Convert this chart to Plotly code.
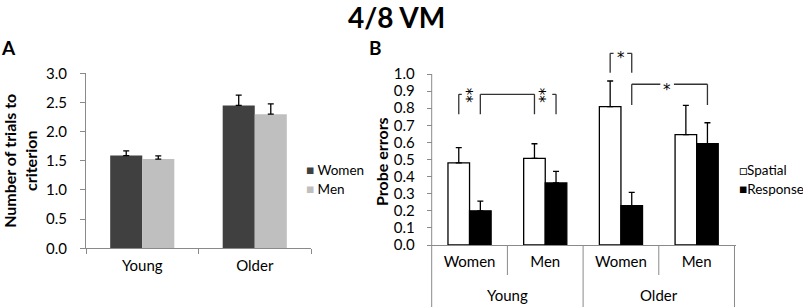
import plotly.graph_objects as go

W, H = 803, 307

# ---------------- data ----------------
# Panel A: number of trials to criterion
age_groups = ["Young", "Older"]
women_trials = [1.59, 2.45]
women_trials_sem = [0.08, 0.175]
men_trials = [1.53, 2.30]
men_trials_sem = [0.055, 0.175]

# Panel B: probe errors
group_labels = ["Young", "Older"]
sex_labels = ["Women", "Men", "Women", "Men"]
bar_pos = [0, 1, 2, 3]
spatial_errors = [0.48, 0.507, 0.809, 0.645]
spatial_sem = [0.089, 0.085, 0.15, 0.172]
response_errors = [0.20, 0.363, 0.23, 0.592]
response_sem = [0.056, 0.068, 0.078, 0.123]
b_ticks = [0, 0.1, 0.2, 0.3, 0.4, 0.5, 0.6, 0.7, 0.8, 0.9, 1.0]

# ---------------- styling ----------------
FONT = "Lato, Carlito, 'Open Sans', sans-serif"
STARFONT = "'DejaVu Sans', sans-serif"
AX = "#8a8a8a"
WOMEN_C = "#404040"
MEN_C = "#bfbfbf"
BARGAP = 0.43
OFF = (1 - BARGAP) / 4  # centre offset of each bar within a category


def px_x(p):
    return p / W


def px_y(p):
    return 1 - p / H


# plot-area geometry (pixels)
A_left, A_right, A_bottom, A_top = 86, 311, 248.3, 73.3
B_left, B_right, B_bottom, B_top = 431.7, 734.5, 245, 74
B_unit = (B_right - B_left) / 4
PADX = 0.02
B_ext = 1.15  # y-range of panel B incl. room for the significance brackets
B_top_ext = B_bottom - (B_bottom - B_top) * B_ext

err = dict(type="data", symmetric=False, color="black", thickness=1.3, width=3)

fig = go.Figure()

fig.add_trace(go.Bar(x=age_groups, y=women_trials, name="Women",
                     marker=dict(color=WOMEN_C, line=dict(width=0)),
                     error_y=dict(err, array=women_trials_sem, arrayminus=[0] * 2),
                     xaxis="x", yaxis="y", showlegend=False))
fig.add_trace(go.Bar(x=age_groups, y=men_trials, name="Men",
                     marker=dict(color=MEN_C, line=dict(width=0)),
                     error_y=dict(err, array=men_trials_sem, arrayminus=[0] * 2),
                     xaxis="x", yaxis="y", showlegend=False))

fig.add_trace(go.Bar(x=bar_pos, y=spatial_errors, name="Spatial",
                     marker=dict(color="white", line=dict(color="black", width=1.3)),
                     error_y=dict(err, array=spatial_sem, arrayminus=[0] * 4),
                     xaxis="x2", yaxis="y2", showlegend=False))
fig.add_trace(go.Bar(x=bar_pos, y=response_errors, name="Response",
                     marker=dict(color="black", line=dict(color="black", width=1.3)),
                     error_y=dict(err, array=response_sem, arrayminus=[0] * 4),
                     xaxis="x2", yaxis="y2", showlegend=False))

# ---------------- Excel-style legends (square glyph + label) ----------------
legend_a = [("Women", WOMEN_C), ("Men", MEN_C)]
for i, (name, col) in enumerate(legend_a):
    fig.add_annotation(xref="paper", yref="paper", x=px_x(303.5), y=px_y(170 + 19 * i),
                       xanchor="left", yanchor="middle", showarrow=False,
                       text=f"<span style='color:{col}'>■</span> {name}",
                       font=dict(size=13.5, color="black", family=FONT))
legend_b = [("Spatial", "□"), ("Response", "■")]
for i, (name, sym) in enumerate(legend_b):
    fig.add_annotation(xref="paper", yref="paper", x=px_x(736.5), y=px_y(170 + 19 * i),
                       xanchor="left", yanchor="middle", showarrow=False,
                       text=f"{sym}{name}",
                       font=dict(size=13.5, color="black", family=FONT))

# ---------------- panel B axis furniture ----------------
# y-axis line (stops at 1.0)
fig.add_shape(type="line", xref="x2", yref="y2", x0=-0.5, x1=-0.5, y0=0, y1=1.0,
              line=dict(color=AX, width=1))
# category dividers below the x axis
for bx in [-0.5, 1.5, 3.5]:
    fig.add_shape(type="line", xref="x2", yref="paper", x0=bx, x1=bx,
                  y0=px_y(B_bottom), y1=px_y(H + 2), line=dict(color=AX, width=1))
for bx in [0.5, 2.5]:
    fig.add_shape(type="line", xref="x2", yref="paper", x0=bx, x1=bx,
                  y0=px_y(B_bottom), y1=px_y(275), line=dict(color=AX, width=1))
for gi, g in enumerate(group_labels):
    fig.add_annotation(xref="x2", yref="paper", x=gi * 2 + 0.5, y=px_y(295),
                       xanchor="center", yanchor="middle",
                       text=g, showarrow=False,
                       font=dict(size=15, color="black", family=FONT))

# ---------------- significance brackets (panel B) ----------------
LW = dict(color="#333333", width=1.3)
segments = [
    # Young women: spatial vs response
    (0 - OFF, 0.764, 0 - OFF, 0.881), (0 - OFF, 0.881, 0.04 - OFF, 0.881),
    # Young women response -> Young men spatial
    (0 + OFF, 0.764, 0 + OFF, 0.881), (0 + OFF, 0.881, 1 - OFF, 0.881),
    (1 - OFF, 0.881, 1 - OFF, 0.764),
    # Young men: spatial vs response
    (1 + OFF - 0.05, 0.881, 1 + OFF, 0.881), (1 + OFF, 0.881, 1 + OFF, 0.764),
    # Older women: spatial vs response
    (2 - OFF, 1.008, 2 - OFF, 1.121), (2 - OFF, 1.121, 2 - OFF + 0.045, 1.121),
    (2 + OFF - 0.06, 1.121, 2 + OFF, 1.121), (2 + OFF, 1.121, 2 + OFF, 1.008),
    # Older: women response vs men response
    (2 + OFF, 0.819, 2 + OFF, 0.94), (2 + OFF, 0.94, 2.52, 0.94),
    (2.70, 0.94, 3 + OFF, 0.94), (3 + OFF, 0.94, 3 + OFF, 0.819),
]
for x0, y0, x1, y1 in segments:
    fig.add_shape(type="line", xref="x2", yref="y2", x0=x0, y0=y0, x1=x1, y1=y1,
                  line=LW)

# significance marks: (x, y, label)
stars = [(0.017, 0.874, "**"), (0.98, 0.874, "**"), (2.0, 1.117, "*"), (2.61, 0.93, "*")]
for sx, sy, lab in stars:
    if len(lab) > 1:
        fig.add_annotation(xref="x2", yref="y2", x=sx, y=sy, text=lab, showarrow=False,
                           textangle=90, xanchor="center", yanchor="middle", xshift=-4,
                           font=dict(size=15, color="black", family=STARFONT))
    else:
        fig.add_annotation(xref="x2", yref="y2", x=sx, y=sy, text=lab, showarrow=False,
                           xanchor="center", yanchor="middle", yshift=-4,
                           font=dict(size=15, color="black", family=STARFONT))

# ---------------- titles / panel labels ----------------
fig.add_annotation(xref="paper", yref="paper", x=px_x(396), y=px_y(17),
                   xanchor="center", yanchor="middle",
                   text="<b>4/8 VM</b>", showarrow=False,
                   font=dict(size=28, color="black", family=FONT))
fig.add_annotation(xref="paper", yref="paper", x=px_x(8), y=px_y(47),
                   xanchor="center", yanchor="middle",
                   text="<b>A</b>", showarrow=False,
                   font=dict(size=19, color="black", family=FONT))
fig.add_annotation(xref="paper", yref="paper", x=px_x(375), y=px_y(47),
                   xanchor="center", yanchor="middle",
                   text="<b>B</b>", showarrow=False,
                   font=dict(size=19, color="black", family=FONT))
fig.add_annotation(xref="paper", yref="paper", x=px_x(381), y=px_y(162),
                   xanchor="center", yanchor="middle",
                   text="<b>Probe errors</b>", showarrow=False, textangle=-90,
                   font=dict(size=16, color="black", family=FONT))

axis_common = dict(showline=True, linecolor=AX, linewidth=1, ticks="outside",
                   tickcolor=AX, ticklen=5, showgrid=False, zeroline=False,
                   tickfont=dict(size=15, color="black", family=FONT))

fig.update_layout(
    width=W, height=H, autosize=False,
    margin=dict(l=0, r=0, t=0, b=0, autoexpand=False),
    paper_bgcolor="white", plot_bgcolor="white",
    font=dict(family=FONT, size=15, color="black"),
    barmode="group", bargap=BARGAP, bargroupgap=0,
    showlegend=False,
    xaxis=dict(axis_common, domain=[px_x(A_left), px_x(A_right)], anchor="y",
               type="category", tickson="boundaries", ticklen=5,
               ticklabelstandoff=4),
    yaxis=dict(axis_common, domain=[px_y(A_bottom), px_y(A_top)], anchor="x",
               range=[0, 3.0], dtick=0.5, tickformat=".1f", ticklabelstandoff=10,
               title=dict(text="Number of trials to<br>criterion", standoff=7,
                          font=dict(size=16, weight="bold", family=FONT))),
    xaxis2=dict(axis_common, anchor="y2",
                domain=[px_x(B_left - PADX * B_unit), px_x(B_right + PADX * B_unit)],
                range=[-0.5 - PADX, 3.5 + PADX], tickvals=bar_pos, ticktext=sex_labels,
                ticks="", ticklabelstandoff=3),
    yaxis2=dict(axis_common, domain=[px_y(B_bottom), px_y(B_top_ext)],
                anchor="free", position=px_x(B_left), showline=False,
                range=[0, B_ext], tickvals=b_ticks, tickformat=".1f",
                ticklabelstandoff=9),
)

fig.write_html("out.html", config={"displayModeBar": False},
               post_script="document.body.style.margin='0px';")
